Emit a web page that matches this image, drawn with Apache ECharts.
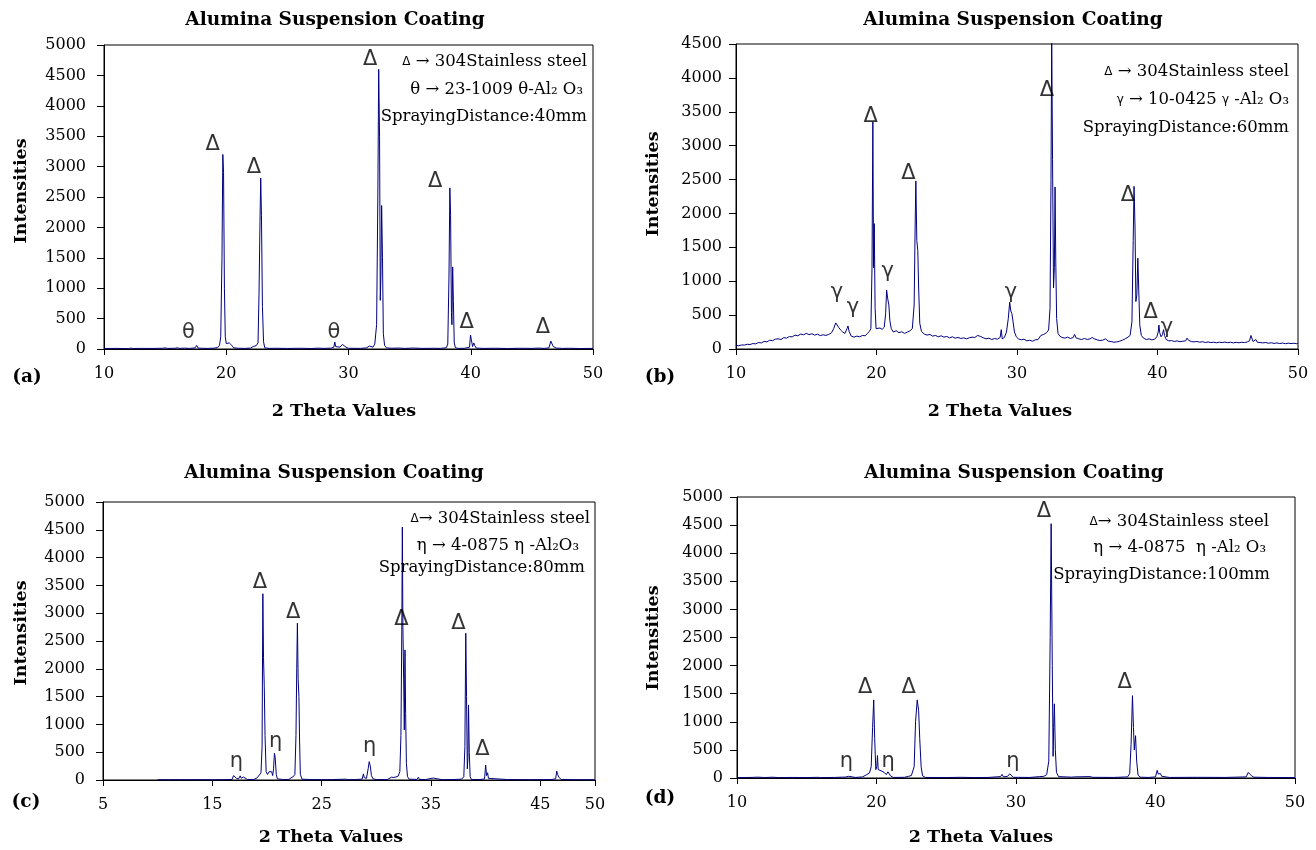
<!DOCTYPE html>
<html>
<head>
<meta charset="utf-8">
<script src="https://cdn.jsdelivr.net/npm/echarts@6/dist/echarts.min.js"></script>
<style>
  html, body { margin: 0; background: #fff; }
  #main { width: 1316px; height: 850px; }
</style>
</head>
<body>
<div id="main"></div>
<script>
// 2θ / intensity scans
const scanA = [
  [10,8],[11,10],[12,6],[12.2,14],[12.4,8],[13,10],[14,9],[14.8,12],[15,18],[15.2,10],[15.8,12],[16,20],[16.2,10],[16.6,14],[17,10],
  [17.45,18],[17.58,60],[17.7,15],[18,12],[18.5,10],[19,14],[19.3,25],[19.45,60],[19.55,200],[19.65,1500],[19.72,3200],[19.78,2900],
  [19.85,1000],[19.92,200],[20,90],[20.1,110],[20.25,100],[20.35,110],[20.45,60],[20.6,20],[21,12],[21.5,10],[22,15],[22.2,40],
  [22.45,55],[22.6,100],[22.68,900],[22.76,2100],[22.82,2810],[22.88,2200],[22.96,700],[23.05,120],[23.15,20],[23.5,10],[24,12],
  [25,9],[26,12],[27,8],[27.5,14],[28,10],[28.6,15],[28.8,30],[28.88,115],[28.95,40],[29.1,15],[29.3,30],[29.5,75],[29.65,80],
  [29.8,30],[30,12],[31,10],[31.5,20],[31.7,50],[31.85,30],[32,30],[32.15,80],[32.3,400],[32.4,2500],[32.47,4600],[32.54,3500],
  [32.6,800],[32.65,1200],[32.71,2360],[32.78,1500],[32.85,250],[32.95,60],[33.1,20],[33.5,12],[33.9,15],[34,40],[34.1,15],
  [34.6,10],[35.2,15],[35.3,35],[35.4,15],[36,10],[37,12],[37.5,10],[38,20],[38.12,80],[38.22,1200],[38.29,2650],[38.35,2200],
  [38.42,600],[38.46,400],[38.52,1350],[38.58,800],[38.65,100],[38.75,20],[39,10],[39.5,12],[39.9,30],[39.98,230],[40.05,150],
  [40.15,40],[40.25,100],[40.32,60],[40.45,15],[41,10],[42,12],[43,8],[44,12],[45,10],[45.5,15],[46,10],[46.4,20],[46.55,130],
  [46.65,110],[46.75,40],[46.85,50],[47,15],[47.5,10],[48,12],[49,8],[50,10]
];

const scanB = [
  [10,52],[10.2,48],[10.4,60],[10.6,58],[10.8,70],[11,66],[11.2,80],[11.4,76],[11.6,95],[11.8,90],[12,112],[12.2,105],[12.4,130],
  [12.6,122],[12.8,145],[13,150],[13.2,140],[13.4,168],[13.6,160],[13.8,185],[14,178],[14.2,205],[14.4,195],[14.6,220],[14.8,210],
  [15,230],[15.2,212],[15.4,225],[15.6,205],[15.8,218],[16,198],[16.2,210],[16.4,200],[16.6,215],[16.8,240],[16.95,300],[17.1,385],
  [17.2,370],[17.3,320],[17.45,280],[17.6,250],[17.75,230],[17.9,300],[17.97,340],[18.05,260],[18.2,190],[18.4,175],[18.6,190],
  [18.8,180],[19,200],[19.2,195],[19.35,230],[19.5,260],[19.6,300],[19.68,1200],[19.74,3350],[19.79,1200],[19.84,1850],[19.9,600],
  [19.97,300],[20.1,280],[20.25,310],[20.4,290],[20.55,320],[20.65,520],[20.72,870],[20.8,740],[20.88,650],[20.95,420],[21.05,300],
  [21.2,250],[21.4,270],[21.6,240],[21.8,255],[22,230],[22.2,250],[22.4,270],[22.55,300],[22.68,650],[22.75,1800],[22.8,2480],
  [22.87,1600],[22.94,1450],[23,900],[23.08,380],[23.2,260],[23.4,220],[23.6,205],[23.8,215],[24,190],[24.2,200],[24.4,180],
  [24.6,195],[24.8,175],[25,185],[25.2,165],[25.4,180],[25.6,160],[25.8,170],[26,155],[26.2,165],[26.4,150],[26.6,165],[26.8,175],
  [27,170],[27.2,200],[27.4,185],[27.6,165],[27.8,150],[28,160],[28.2,140],[28.4,155],[28.6,145],[28.8,170],[28.88,285],[28.95,150],
  [29.1,170],[29.25,250],[29.38,450],[29.48,690],[29.56,560],[29.64,520],[29.72,400],[29.82,250],[29.95,180],[30.1,150],[30.3,135],
  [30.5,145],[30.7,120],[30.9,130],[31.1,115],[31.3,135],[31.5,140],[31.7,200],[31.9,215],[32.1,240],[32.25,280],[32.35,600],
  [32.42,2500],[32.47,4650],[32.53,2800],[32.6,900],[32.66,1200],[32.71,2390],[32.76,1300],[32.82,450],[32.92,230],[33.05,190],
  [33.2,170],[33.4,160],[33.6,175],[33.8,155],[34,170],[34.1,215],[34.2,165],[34.4,150],[34.6,140],[34.8,155],[35,140],[35.2,150],
  [35.35,170],[35.5,150],[35.7,135],[35.9,125],[36.1,130],[36.3,150],[36.5,115],[36.7,110],[36.9,100],[37.1,105],[37.3,115],
  [37.5,130],[37.7,150],[37.9,175],[38.05,200],[38.18,400],[38.27,1600],[38.33,2400],[38.4,1800],[38.46,700],[38.53,800],
  [38.6,1340],[38.66,900],[38.74,350],[38.85,200],[39,160],[39.2,140],[39.4,150],[39.6,135],[39.8,145],[39.95,180],[40.05,250],
  [40.1,354],[40.16,240],[40.25,180],[40.35,210],[40.43,285],[40.5,200],[40.62,140],[40.8,120],[41,125],[41.2,110],[41.4,120],
  [41.6,108],[41.8,115],[42,120],[42.1,160],[42.2,130],[42.4,110],[42.6,105],[42.8,112],[43,100],[43.2,108],[43.4,96],[43.6,104],
  [43.8,95],[44,100],[44.2,92],[44.4,100],[44.6,95],[44.8,102],[45,93],[45.2,100],[45.4,90],[45.6,98],[45.8,92],[46,100],[46.2,95],
  [46.4,105],[46.55,120],[46.65,200],[46.72,180],[46.8,110],[46.9,130],[47,140],[47.1,100],[47.3,95],[47.5,90],[47.7,96],[47.9,85],
  [48.1,92],[48.3,82],[48.5,90],[48.7,80],[48.9,88],[49.1,78],[49.3,86],[49.5,80],[49.7,85],[49.9,78],[50,82]
];

const scanC = [
  [10,5],[11,5],[12,6],[13,5],[14,6],[15,5],[16,6],[16.8,10],[16.95,80],[17.1,85],[17.2,30],[17.4,20],[17.55,75],[17.65,30],
  [17.85,55],[17.95,20],[18.2,8],[18.8,10],[19.1,40],[19.3,90],[19.45,130],[19.55,600],[19.62,3350],[19.68,2200],[19.75,1680],
  [19.82,800],[19.92,150],[20.05,100],[20.2,150],[20.3,120],[20.42,150],[20.52,80],[20.6,200],[20.68,480],[20.75,400],[20.85,100],
  [20.95,20],[21.5,8],[22,10],[22.2,40],[22.4,60],[22.55,100],[22.65,800],[22.72,2000],[22.78,2820],[22.85,1800],[22.92,1500],
  [22.98,700],[23.05,100],[23.2,15],[24,8],[25,6],[26,8],[27.2,15],[27.4,6],[28,8],[28.7,15],[28.82,110],[28.9,40],[29.1,30],
  [29.25,200],[29.35,330],[29.45,250],[29.55,80],[29.7,20],[30,8],[31,8],[31.4,50],[31.6,45],[31.8,55],[32,70],[32.15,150],
  [32.25,800],[32.33,2700],[32.38,4550],[32.43,2750],[32.5,1800],[32.56,900],[32.62,2340],[32.68,1200],[32.75,300],[32.85,60],
  [33,15],[33.7,10],[33.85,50],[33.95,10],[34.5,8],[35.2,35],[35.35,10],[36,6],[37,8],[37.8,15],[38,60],[38.1,600],[38.18,2640],
  [38.25,1500],[38.32,200],[38.38,400],[38.43,1350],[38.5,500],[38.58,60],[38.7,10],[39.5,8],[39.9,20],[40,270],[40.08,80],
  [40.18,130],[40.25,30],[40.4,10],[42,8],[44,6],[46,8],[46.4,20],[46.5,160],[46.58,100],[46.7,50],[46.8,80],[46.9,10],[48,6],[50,5]
];

const scanD = [
  [10,8],[11,10],[11.5,15],[12,8],[12.5,14],[13,8],[14,10],[15,8],[15.8,12],[16,8],[17,10],[17.5,15],[17.63,45],[17.75,15],[18,30],
  [18.1,12],[18.5,10],[19,20],[19.3,60],[19.5,90],[19.62,200],[19.72,900],[19.8,1390],[19.87,700],[19.95,150],[20.02,200],[20.07,400],
  [20.12,150],[20.25,150],[20.4,120],[20.55,100],[20.7,60],[20.82,110],[20.92,120],[21,40],[21.2,10],[22,12],[22.3,30],[22.5,45],
  [22.7,200],[22.8,1000],[22.92,1390],[23.02,1200],[23.1,700],[23.2,200],[23.3,40],[23.5,10],[25,8],[26,12],[27,8],[28,10],[28.9,25],
  [29,65],[29.1,20],[29.4,30],[29.55,75],[29.65,40],[29.8,12],[31,10],[31.7,25],[32,30],[32.2,60],[32.35,300],[32.45,2500],
  [32.52,4525],[32.6,2000],[32.66,385],[32.7,900],[32.75,1320],[32.82,500],[32.9,100],[33.05,25],[34,15],[34.2,20],[35.3,25],
  [35.5,12],[37,10],[38,20],[38.15,80],[38.25,600],[38.35,1465],[38.42,900],[38.48,500],[38.57,753],[38.65,300],[38.75,50],[38.9,15],
  [39.5,10],[40,20],[40.12,136],[40.2,70],[40.35,80],[40.45,30],[41,10],[43,12],[45,10],[46.5,20],[46.65,100],[46.75,80],[46.88,40],
  [46.95,60],[47.05,15],[48,10],[50,8]
];

// phase markers [2θ, intensity, symbol]
const marksA = [[18.88,3356,'Δ'],[22.27,2977,'Δ'],[16.9,263,'θ'],[28.8,263,'θ'],[31.77,4754,'Δ'],[37.1,2752,'Δ'],[39.66,427,'Δ'],[45.9,345,'Δ']];
const marksB = [[32.13,3820,'Δ'],[19.59,3427,'Δ'],[22.27,2596,'Δ'],[37.9,2271,'Δ'],[39.52,531,'Δ'],[17.19,826,'γ'],[18.33,605,'γ'],[20.8,1140,'γ'],[29.57,826,'γ'],[40.68,310,'γ']];
const marksC = [[19.36,3546,'Δ'],[22.4,3006,'Δ'],[32.3,2880,'Δ'],[37.5,2820,'Δ'],[39.7,540,'Δ'],[17.2,330,'η'],[20.8,690,'η'],[29.4,600,'η']];
const marksD = [[32.0,4744,'Δ'],[19.19,1601,'Δ'],[22.3,1601,'Δ'],[37.79,1690,'Δ'],[17.85,296,'η'],[20.84,296,'η'],[29.78,296,'η']];

// axis ranges [min, max, interval]
const xRangeA = [10, 50, 10], yRangeA = [0, 5000, 500];
const xRangeB = [10, 50, 10], yRangeB = [0, 4500, 500];
const xRangeC = [5, 50, 10],  yRangeC = [0, 5000, 500];
const xRangeD = [10, 50, 10], yRangeD = [0, 5000, 500];

const legendA = ['{d|Δ} → 304Stainless steel', 'θ → 23-1009 θ-Al₂ O₃', 'SprayingDistance:40mm'];
const legendB = ['{d|Δ} → 304Stainless steel', '{d|γ} → 10-0425 {d|γ} -Al₂ O₃', 'SprayingDistance:60mm'];
const legendC = ['{d|Δ}→ 304Stainless steel', 'η → 4-0875 η -Al₂O₃', 'SprayingDistance:80mm'];
const legendD = ['{d|Δ}→ 304Stainless steel', 'η → 4-0875  η -Al₂ O₃', 'SprayingDistance:100mm'];

const SERIF = 'DejaVu Serif';
const LINE = '#00007f';

const panels = [
  { scan: scanA, marks: marksA, x: xRangeA, y: yRangeA, legend: legendA, tag: '(a)',
    grid: { left: 104, top: 45, width: 489, height: 304 }, yMargin: 18, xMargin: 17,
    title: [335, 20], yName: [21, 191], xName: [344, 411], label: [27, 377],
    legendPos: [[587, 62], [583, 90], [587, 117]] },
  { scan: scanB, marks: marksB, x: xRangeB, y: yRangeB, legend: legendB, tag: '(b)',
    grid: { left: 736, top: 44, width: 562, height: 305 }, yMargin: 14, xMargin: 17,
    title: [1013, 20], yName: [653, 184], xName: [1000, 411], label: [660, 377],
    legendPos: [[1289, 72], [1289, 100], [1289, 128]] },
  { scan: scanC, marks: marksC, x: xRangeC, y: yRangeC, legend: legendC, tag: '(c)',
    grid: { left: 103, top: 502, width: 492, height: 278 }, yMargin: 18, xMargin: 17,
    title: [334, 473], yName: [21, 633], xName: [331, 837], label: [26, 802],
    legendPos: [[590, 519], [579, 546], [585, 568]] },
  { scan: scanD, marks: marksD, x: xRangeD, y: yRangeD, legend: legendD, tag: '(d)',
    grid: { left: 737, top: 497, width: 558, height: 281 }, yMargin: 14, xMargin: 17,
    title: [1014, 473], yName: [653, 638], xName: [981, 837], label: [660, 798],
    legendPos: [[1269, 522], [1266, 548], [1270, 575]] }
];

const grid = [], xAxis = [], yAxis = [], series = [], graphic = [];
const plain = v => String(v);

panels.forEach((p, i) => {
  grid.push(Object.assign({ show: true, borderColor: '#000', borderWidth: 1, backgroundColor: '#fff' }, p.grid));
  xAxis.push({
    type: 'value', gridIndex: i, min: p.x[0], max: p.x[1], interval: p.x[2],
    axisLine: { onZero: false, lineStyle: { color: '#000', width: 1 } },
    axisTick: { show: true, inside: false, length: 6, lineStyle: { color: '#000' } },
    axisLabel: { margin: p.xMargin, color: '#000', fontFamily: SERIF, fontSize: 16, formatter: plain },
    splitLine: { show: false }
  });
  yAxis.push({
    type: 'value', gridIndex: i, min: p.y[0], max: p.y[1], interval: p.y[2],
    axisLine: { show: true, lineStyle: { color: '#000', width: 1 } },
    axisTick: { show: true, inside: false, length: 7, lineStyle: { color: '#000' } },
    axisLabel: { margin: p.yMargin, color: '#000', fontFamily: SERIF, fontSize: 16, formatter: plain },
    splitLine: { show: false }
  });
  series.push({
    type: 'line', xAxisIndex: i, yAxisIndex: i, data: p.scan,
    showSymbol: false, symbol: 'none', clip: true, z: 3,
    lineStyle: { color: LINE, width: 1 }
  });
  series.push({
    type: 'scatter', xAxisIndex: i, yAxisIndex: i, symbolSize: 1, z: 4,
    itemStyle: { color: 'rgba(0,0,0,0)' },
    data: p.marks.map(m => ({ value: [m[0], m[1]], name: m[2] })),
    label: { show: true, position: 'inside', formatter: '{b}', color: '#000',
             fontFamily: 'DejaVu Sans', fontSize: 21 }
  });

  // panel title, axis names and tag
  graphic.push({ type: 'text', x: p.title[0], y: p.title[1], z: 10,
    style: { text: 'Alumina Suspension Coating', fill: '#000', fontFamily: SERIF, fontWeight: 'bold',
             fontSize: 18.5, align: 'center', verticalAlign: 'middle' } });
  graphic.push({ type: 'text', x: p.yName[0], y: p.yName[1], rotation: Math.PI / 2, z: 10,
    style: { text: 'Intensities', fill: '#000', fontFamily: SERIF, fontWeight: 'bold',
             fontSize: 17.5, align: 'center', verticalAlign: 'middle' } });
  graphic.push({ type: 'text', x: p.xName[0], y: p.xName[1], z: 10,
    style: { text: '2 Theta Values', fill: '#000', fontFamily: SERIF, fontWeight: 'bold',
             fontSize: 17.5, align: 'center', verticalAlign: 'middle' } });
  graphic.push({ type: 'text', x: p.label[0], y: p.label[1], z: 10,
    style: { text: p.tag, fill: '#000', fontFamily: SERIF, fontWeight: 'bold',
             fontSize: 18.5, align: 'center', verticalAlign: 'middle' } });

  // phase legend in the upper right
  p.legend.forEach((line, k) => {
    graphic.push({ type: 'text', x: p.legendPos[k][0], y: p.legendPos[k][1], z: 10,
      style: { text: line, fill: '#000', fontFamily: SERIF, fontSize: 16.5,
               align: 'right', verticalAlign: 'middle',
               rich: { d: { fontFamily: 'DejaVu Sans', fontSize: 12, fill: '#000' } } } });
  });
});

const chart = echarts.init(document.getElementById('main'), null, { renderer: 'canvas' });
chart.setOption({
  backgroundColor: '#fff',
  animation: false,
  grid, xAxis, yAxis, series, graphic
});
</script>
</body>
</html>
